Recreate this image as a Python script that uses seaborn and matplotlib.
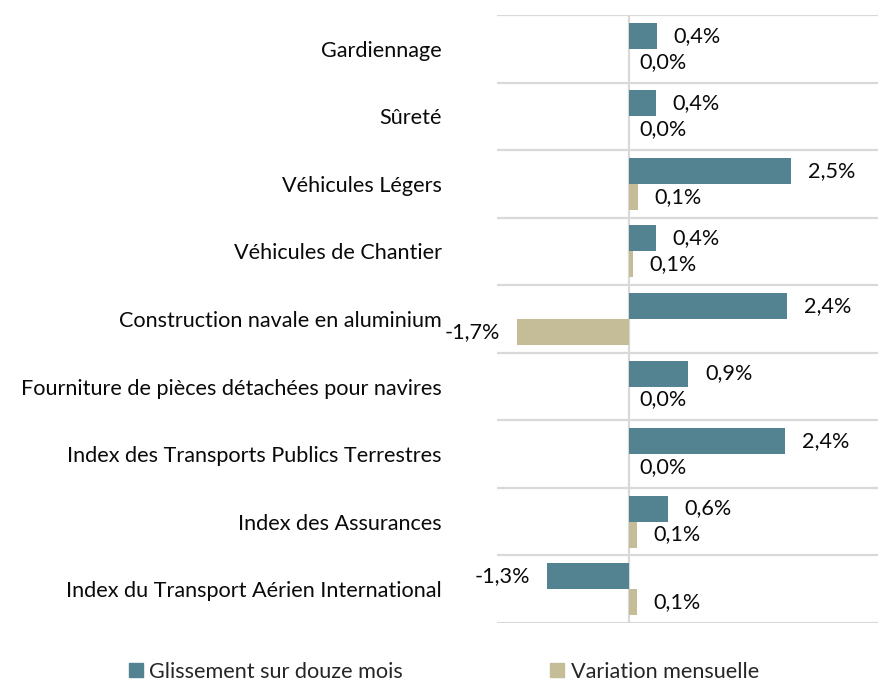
import pandas as pd
import matplotlib.pyplot as plt
import seaborn as sns
from matplotlib.patches import Patch

categories = [
    "Gardiennage",
    "Sûreté",
    "Véhicules Légers",
    "Véhicules de Chantier",
    "Construction navale en aluminium",
    "Fourniture de pièces détachées pour navires",
    "Index des Transports Publics Terrestres",
    "Index des Assurances",
    "Index du Transport Aérien International",
]
glissement = [0.44, 0.42, 2.5, 0.42, 2.44, 0.92, 2.41, 0.6, -1.26]
variation = [0.0, 0.0, 0.14, 0.07, -1.72, 0.0, 0.0, 0.13, 0.13]
series_names = ["Glissement sur douze mois", "Variation mensuelle"]
colors = ["#538291", "#C5BD98"]

df = pd.DataFrame({
    "categorie": categories * 2,
    "valeur": glissement + variation,
    "serie": [series_names[0]] * len(categories) + [series_names[1]] * len(categories),
})

sns.set_theme(style="white")
plt.rcParams["font.family"] = ["Lato", "DejaVu Sans"]
FS = 15.6

fig = plt.figure(figsize=(8.79, 6.86), dpi=100)
ax = fig.add_axes([0.5655, 0.092, 0.4345, 0.886])

sns.barplot(
    data=df, y="categorie", x="valeur", hue="serie", orient="h",
    palette=colors, width=0.77, ax=ax, legend=False, saturation=1,
    linewidth=0,
)

ax.set_xlim(-2.02, 3.85)
ax.set_ylim(len(categories) - 0.5, -0.5)
for s in ax.spines.values():
    s.set_visible(False)

# Category separators and zero line
for i in range(len(categories) + 1):
    ax.axhline(i - 0.5, color="#d9d9d9", lw=1.6, zorder=0)
ax.axvline(0, color="#d9d9d9", lw=1.6, zorder=0)

ax.set_xticks([])
ax.set_xlabel("")
ax.set_ylabel("")
ax.tick_params(axis="y", length=0, pad=40, labelsize=FS, labelcolor="#0a0a0a")

# Data labels
for container in ax.containers:
    for bar in container:
        v = bar.get_width()
        y = bar.get_y() + bar.get_height() / 2
        txt = f"{v:.1f}".replace(".", ",").replace("-0,0", "0,0") + "%"
        if v < 0:
            ax.annotate(txt, (v, y), xytext=(-12, 0), textcoords="offset points",
                        ha="right", va="center", fontsize=FS, color="#0a0a0a")
        else:
            pad = 8 if abs(v) < 0.05 else 12
            ax.annotate(txt, (v, y), xytext=(pad, 0), textcoords="offset points",
                        ha="left", va="center", fontsize=FS, color="#0a0a0a")

handles = [Patch(color=c, label=n) for c, n in zip(colors, series_names)]
fig.legend(handles=handles, loc="lower center", bbox_to_anchor=(0.505, -0.022),
           ncol=2, frameon=False, fontsize=FS, handlelength=0.65, handleheight=0.65,
           handletextpad=0.3, columnspacing=6.8)

fig.savefig("out.png", dpi=100)
